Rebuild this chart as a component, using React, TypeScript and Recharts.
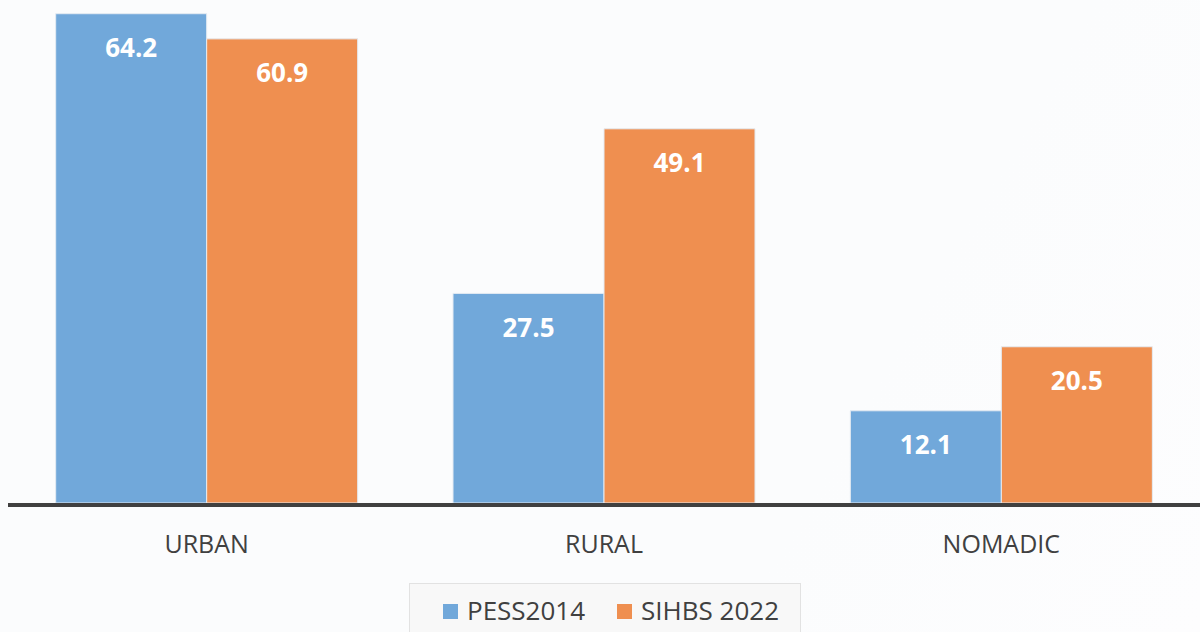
import { BarChart, Bar, XAxis, YAxis, Legend, LabelList } from "recharts"

const categories = ["URBAN", "RURAL", "NOMADIC"]
const pess2014 = [64.2, 27.5, 12.1]
const sihbs2022 = [60.9, 49.1, 20.5]

const SERIES = [
  { key: "pess", name: "PESS2014", color: "#71a8da" },
  { key: "sihbs", name: "SIHBS 2022", color: "#ef8f50" },
]

const data = categories.map((name, i) => ({
  name,
  pess: pess2014[i],
  sihbs: sihbs2022[i],
}))

const FONT = "'Open Sans', 'Liberation Sans', sans-serif"
const TEXT = "#404040"

function LegendBox() {
  return (
    <div
      style={{
        width: 392,
        height: 49,
        boxSizing: "border-box",
        background: "#f8f8f8",
        border: "1px solid #e2e2e2",
        borderBottom: "none",
        display: "flex",
        alignItems: "center",
        paddingLeft: 33,
        paddingTop: 4,
        fontFamily: FONT,
        fontSize: 26,
        color: TEXT,
      }}
    >
      {SERIES.map((s, i) => (
        <div key={s.key} style={{ display: "flex", alignItems: "center", marginRight: i === 0 ? 32 : 0 }}>
          <span style={{ width: 15, height: 15, background: s.color, display: "inline-block", marginRight: 9, marginTop: 2 }} />
          <span>{s.name}</span>
        </div>
      ))}
    </div>
  )
}

export default function App() {
  return (
    <div
      style={{
        position: "absolute",
        left: 0,
        top: 0,
        width: 1200,
        height: 632,
        overflow: "hidden",
        background: "linear-gradient(120deg, #fbfcfd 0%, #fbfcfd 70%, #fdfdfe 100%)",
      }}
    >
      <BarChart
        width={1200}
        height={632}
        data={data}
        margin={{ top: 0, right: 0, left: 8, bottom: 0 }}
        barCategoryGap="12%"
        barGap={0}
      >
        <YAxis hide domain={[0, 66]} />
        <XAxis
          dataKey="name"
          height={80}
          tickLine={false}
          tickSize={6}
          tickMargin={26}
          axisLine={{ stroke: TEXT, strokeWidth: 4, transform: "translate(0, 2)" }}
          tick={{ fill: TEXT, fontSize: 25, fontFamily: FONT }}
        />
        <Legend
          verticalAlign="bottom"
          content={() => <LegendBox />}
          wrapperStyle={{ left: 409, bottom: 0, width: 392, height: 49 }}
        />
        {SERIES.map((s) => (
          <Bar
            key={s.key}
            dataKey={s.key}
            name={s.name}
            fill={s.color}
            stroke="#e4ebf2"
            strokeWidth={1}
            isAnimationActive={false}
          >
            <LabelList
              dataKey={s.key}
              position="insideTop"
              offset={25}
              fill="#ffffff"
              fontSize={26}
              fontWeight="bold"
              fontFamily={FONT}
            />
          </Bar>
        ))}
      </BarChart>
    </div>
  )
}
